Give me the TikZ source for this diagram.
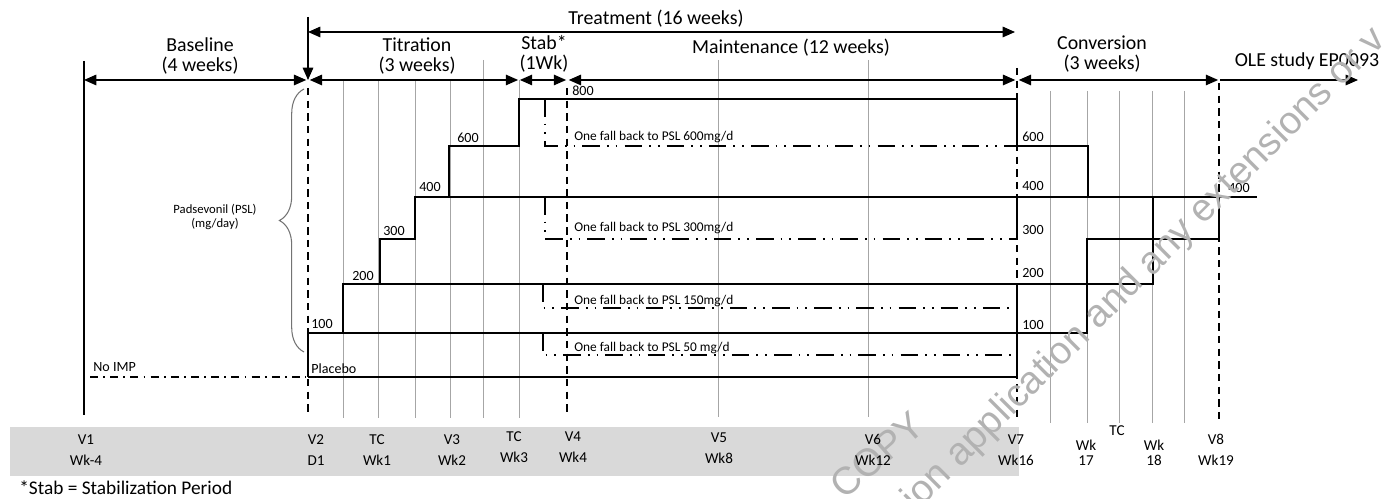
\documentclass[tikz,border=0pt]{standalone}
\usepackage{fontspec}
\setmainfont{Carlito}
\newfontfamily\wmfont{Liberation Sans}
\usetikzlibrary{arrows.meta, decorations.pathreplacing}

\tikzset{
  phase/.style={font=\fontsize{11.3}{11.6}\selectfont, align=center, inner sep=0pt},
  doselabel/.style={font=\fontsize{8}{9}\selectfont, inner sep=0pt},
  fallnote/.style={font=\fontsize{7.6}{9}\selectfont, inner sep=0pt, anchor=west},
  visit/.style={font=\fontsize{8.6}{12}\selectfont, align=center, inner sep=0pt},
  dose/.style={line width=1.1pt},
  fallback/.style={line width=1.1pt, dash pattern=on 10pt off 4pt on 1pt off 4pt on 1pt off 4pt},
  noimp/.style={line width=1.1pt, dash pattern=on 4.5pt off 3pt on 1pt off 3pt},
  visitline/.style={line width=1.4pt, dash pattern=on 4.2pt off 3pt},
  weekline/.style={black!35, line width=0.5pt},
  spanarrow/.style={{Triangle[length=7pt,width=6pt]}-{Triangle[length=7pt,width=6pt]}, line width=0.7pt},
  watermark/.style={font=\wmfont\fontsize{22}{26}\selectfont, text=black!30, inner sep=0pt},
}

\begin{document}
\begin{tikzpicture}[x=0.02cm, y=-0.02cm]
  \def\yPlac{377}
  \def\yL{355}
  \def\yC{333}
  \def\yCL{308}
  \def\yCC{284}
  \def\yCCC{239}
  \def\yCD{197}
  \def\yDC{146}
  \def\yDCCC{99}
  \useasboundingbox (0,0) rectangle (1387,499);
  \fill[black!15] (10,427) rectangle (1019,476);
  % week grid
  \foreach \x in {343,378,415,450,519}
    \draw[weekline] (\x,80) -- (\x,418);
  \draw[weekline] (483,60) -- (483,418);
  \foreach \x in {718,868}
    \draw[weekline] (\x,60) -- (\x,417);
  \foreach \x in {1050,1087,1119,1152,1184}
    \draw[weekline] (\x,91) -- (\x,423);
  % visit lines
  \draw[line width=1.2pt] (84,61) -- (84,415);
  \draw[visitline] (308,88) -- (308,413);
  \draw[visitline] (567,88) -- (567,412);
  \draw[visitline] (1017,68) -- (1017,418);
  \draw[visitline] (1219,83) -- (1219,423);
  % period arrows
  \coordinate (a1) at (84,80);
  \coordinate (a2) at (308,80);
  \coordinate (a3) at (519,80);
  \coordinate (a4) at (567,80);
  \coordinate (a7) at (1017,80);
  \coordinate (a8) at (1219,80);
  \coordinate (aole) at (1358,80);
  \coordinate (top2) at (308,17);
  \coordinate (t2) at (308,32);
  \coordinate (t7) at (1015,32);
  \draw[spanarrow, shorten >=1pt] (a1) -- (a2);
  \draw[spanarrow, shorten <=1pt, shorten >=0.5pt] (a2) -- (a3);
  \draw[spanarrow, shorten <=0.5pt, shorten >=0.5pt] (a3) -- (a4);
  \draw[spanarrow, shorten <=1pt, shorten >=1pt] (a4) -- (a7);
  \draw[spanarrow, shorten <=1pt, shorten >=0.5pt] (a7) -- (a8);
  \draw[-{Triangle[length=7pt,width=6pt]}, line width=0.7pt, shorten <=0.5pt] (a8) -- (aole);
  \draw[spanarrow] (t2) -- (t7);
  \draw[-{Triangle[length=7pt,width=6pt]}, line width=0.7pt] (top2) -- (a2);
  \node[phase] (treat) at (656,19) {Treatment (16 weeks)};
  \node[phase] (baseline) at (200,56) {Baseline\\(4 weeks)};
  \node[phase] (titration) at (417,56) {Titration\\(3 weeks)};
  \node[phase] (stab) at (544,54) {Stab*\\(1Wk)};
  \node[phase] (maint) at (791,48) {Maintenance (12 weeks)};
  \node[phase] (conv) at (1102,54) {Conversion\\(3 weeks)};
  \node[phase] (ole) at (1307,61) {OLE study EP0093};
  % dose steps
  \draw[dose] (308,\yPlac) -- (308,\yC) -- (343,\yC) -- (343,\yCC) -- (380,\yCC)
    -- (380,\yCCC) -- (415,\yCCC) -- (415,\yCD) -- (449,\yCD) -- (449,\yDC)
    -- (519,\yDC) -- (519,\yDCCC) -- (1017,\yDCCC) -- (1017,\yDC);
  \draw[dose] (308,\yPlac) -- (1017,\yPlac) -- (1017,\yCC);
  \draw[dose] (308,\yC) -- (1087,\yC) -- (1087,\yCCC) -- (1219,\yCCC) -- (1219,\yCD);
  \draw[dose] (343,\yCC) -- (1153,\yCC) -- (1153,\yCD);
  \draw[dose] (415,\yCD) -- (1257,\yCD);
  \draw[dose] (1017,\yDC) -- (1088,\yDC) -- (1088,\yCD);
  \draw[dose] (1017,\yCD) -- (1017,\yCCC);
  % fall back
  \draw[fallback] (545,\yDCCC) -- (545,\yDC) -- (1017,\yDC);
  \draw[fallback] (545,\yCD) -- (545,\yCCC) -- (1017,\yCCC);
  \draw[fallback] (543,\yCC) -- (543,\yCL) -- (1017,\yCL);
  \draw[fallback] (543,\yC) -- (543,\yL) -- (1012,\yL);
  \draw[noimp] (90,\yPlac) -- (306,\yPlac);
  \node[fallnote] (fb600) at (574,137) {One fall back to PSL 600mg/d};
  \node[fallnote] (fb300) at (574,228) {One fall back to PSL 300mg/d};
  \node[fallnote] (fb150) at (574,301) {One fall back to PSL 150mg/d};
  \node[fallnote] (fb50) at (574,348) {One fall back to PSL 50 mg/d};
  % dose labels
  \node[doselabel] (d100) at (322,324) {100};
  \node[doselabel] (d200) at (363,276) {200};
  \node[doselabel] (d300) at (394,231) {300};
  \node[doselabel] (d400) at (430,187) {400};
  \node[doselabel] (d600) at (468,138) {600};
  \node[doselabel] (d800) at (583,91) {800};
  \node[doselabel, anchor=west] (c600) at (1022,137) {600};
  \node[doselabel, anchor=west] (c400) at (1022,186) {400};
  \node[doselabel, anchor=west] (c300) at (1022,230) {300};
  \node[doselabel, anchor=west] (c200) at (1022,273) {200};
  \node[doselabel, anchor=west] (c100) at (1022,325) {100};
  \node[doselabel, anchor=west] (e400) at (1228,188) {400};
  \node[doselabel, anchor=west] (noimp) at (93,367) {No IMP};
  \node[doselabel, anchor=west] (placebo) at (311,369) {Placebo};
  \draw[black!55, line width=0.6pt, decorate, decoration={brace, amplitude=14pt}]
    (304,352) -- (304,89);
  \node[doselabel, align=center, font=\fontsize{7.2}{7.5}\selectfont] (psl) at (215,217)
    {Padsevonil (PSL)\\(mg/day)};
  % watermark
  \begin{scope}
    \clip (0,0) rectangle (1387,499);
    \node[watermark, rotate=41] (wmcopy) at (877,455) {COPY};
    \node[watermark, rotate=45] (wmtext) at (1145,270) {ion application and any extensions or v};
  \end{scope}
  % visits
  \node[visit] (v1) at (86,450) {V1\\Wk-4};
  \node[visit] (v2) at (316,450) {V2\\D1};
  \node[visit] (tc1) at (377,450) {TC\\Wk1};
  \node[visit] (v3) at (452,450) {V3\\Wk2};
  \node[visit] (tc3) at (514,447) {TC\\Wk3};
  \node[visit] (v4) at (573,447) {V4\\Wk4};
  \node[visit] (v5) at (719,448) {V5\\Wk8};
  \node[visit] (v6) at (873,450) {V6\\Wk12};
  \node[visit] (v7) at (1016,450) {V7\\Wk16};
  \node[visit, font=\fontsize{8.6}{8.6}\selectfont] (w17) at (1086,453) {Wk\\17};
  \node[visit] (tc17) at (1117,431) {TC};
  \node[visit, font=\fontsize{8.6}{8.6}\selectfont] (w18) at (1154,453) {Wk\\18};
  \node[visit] (v8) at (1216,450) {V8\\Wk19};
  \node[phase, anchor=west, font=\fontsize{11}{11}\selectfont] (note) at (19,488) {*Stab = Stabilization Period};
\end{tikzpicture}
\end{document}
